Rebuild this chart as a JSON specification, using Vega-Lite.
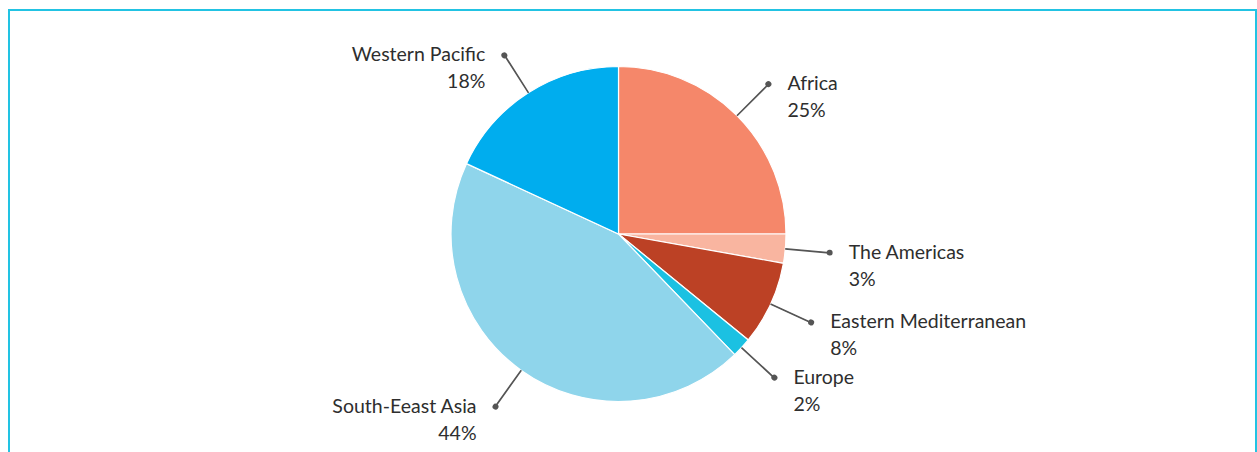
{
  "$schema": "https://vega.github.io/schema/vega-lite/v6.json",
  "width": 1247,
  "height": 448,
  "autosize": "none",
  "padding": {"left": 9, "top": 10, "right": 1, "bottom": 0},
  "background": "white",
  "view": {"stroke": "#22c3e3", "strokeWidth": 2},
  "config": {"view": {"stroke": "#22c3e3", "strokeWidth": 2}, "font": "Lato"},
  "data": {
    "values": [
      {"region": "Africa", "value": 25.0},
      {"region": "The Americas", "value": 2.8},
      {"region": "Eastern Mediterranean", "value": 8.1},
      {"region": "Europe", "value": 1.9},
      {"region": "South-Eeast Asia", "value": 44.1},
      {"region": "Western Pacific", "value": 18.1}
    ]
  },
  "transform": [
    {"window": [{"op": "row_number", "as": "i"}, {"op": "sum", "field": "value", "as": "cum"}], "frame": [null, 0]},
    {"joinaggregate": [{"op": "sum", "field": "value", "as": "total"}]},
    {"calculate": "2*PI*(datum.cum - datum.value/2)/datum.total", "as": "mid"},
    {"calculate": "datum.mid + 0.002", "as": "mid2"},
    {"calculate": "datum.mid - 0.014", "as": "dotA"},
    {"calculate": "datum.mid + 0.014", "as": "dotB"},
    {"calculate": "[datum.region, format(datum.value, '.0f') + '%']", "as": "label"}
  ],
  "layer": [
    {
      "mark": {"type": "arc", "outerRadius": 167.5, "stroke": "white", "strokeWidth": 1.2, "xOffset": -14},
      "encoding": {
        "theta": {"field": "value", "type": "quantitative", "stack": true},
        "order": {"field": "i", "type": "quantitative"},
        "color": {
          "field": "region",
          "type": "nominal",
          "scale": {
            "domain": ["Africa", "The Americas", "Eastern Mediterranean", "Europe", "South-Eeast Asia", "Western Pacific"],
            "range": ["#f5876a", "#f9b5a0", "#bc4125", "#1bc1e2", "#8fd5eb", "#00adee"]
          },
          "legend": null
        }
      }
    },
    {
      "mark": {"type": "arc", "innerRadius": 168, "outerRadius": 211, "stroke": "#555555", "strokeWidth": 1.3, "fill": "#555555", "xOffset": -14},
      "encoding": {
        "theta": {"field": "mid", "type": "quantitative", "scale": null, "stack": null},
        "theta2": {"field": "mid2"}
      }
    },
    {
      "mark": {"type": "arc", "innerRadius": 209, "outerRadius": 215, "cornerRadius": 3, "fill": "#555555", "xOffset": -14},
      "encoding": {
        "theta": {"field": "dotA", "type": "quantitative", "scale": null, "stack": null},
        "theta2": {"field": "dotB"}
      }
    },
    {
      "transform": [{"filter": "datum.mid < PI"}],
      "mark": {"type": "text", "radius": 212, "align": "left", "baseline": "middle", "dx": 5, "fontSize": 19.5, "lineHeight": 27, "color": "#2e2e2e"},
      "encoding": {
        "theta": {"field": "mid", "type": "quantitative", "scale": null, "stack": null},
        "text": {"field": "label"}
      }
    },
    {
      "transform": [{"filter": "datum.mid >= PI"}],
      "mark": {"type": "text", "radius": 212, "align": "right", "baseline": "middle", "dx": -33, "fontSize": 19.5, "lineHeight": 27, "color": "#2e2e2e"},
      "encoding": {
        "theta": {"field": "mid", "type": "quantitative", "scale": null, "stack": null},
        "text": {"field": "label"}
      }
    }
  ]
}
